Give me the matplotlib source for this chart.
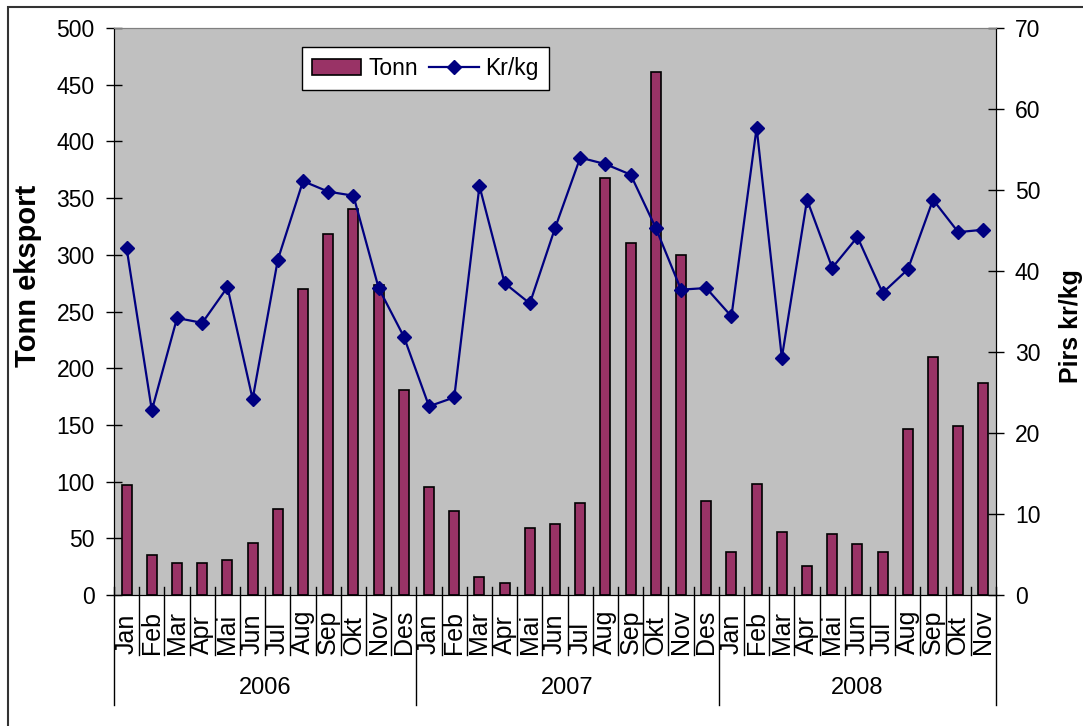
import matplotlib
matplotlib.use('Agg')
import matplotlib.pyplot as plt
import matplotlib.transforms as mtransforms
from matplotlib.patches import Rectangle

plt.rcParams['font.family'] = ['Liberation Sans', 'DejaVu Sans']

# data
months = ['Jan', 'Feb', 'Mar', 'Apr', 'Mai', 'Jun', 'Jul', 'Aug', 'Sep', 'Okt', 'Nov', 'Des']
years = ['2006', '2007', '2008']
months_per_year = [12, 12, 11]

tonn = [97, 35, 28, 28, 31, 46, 76, 270, 318, 340, 273, 181,
        95, 74, 16, 11, 59, 63, 81, 368, 310, 461, 300, 83,
        38, 98, 56, 26, 54, 45, 38, 146, 210, 149, 187]
kr_kg = [42.8, 22.8, 34.2, 33.6, 38.0, 24.2, 41.4, 51.1, 49.8, 49.3, 37.9, 31.9,
         23.3, 24.4, 50.5, 38.5, 36.0, 45.3, 54.0, 53.2, 51.9, 45.3, 37.7, 37.9,
         34.4, 57.7, 29.3, 48.8, 40.4, 44.2, 37.3, 40.2, 48.8, 44.8, 45.1]

labels = []
for n in months_per_year:
    labels += months[:n]
x = list(range(len(tonn)))

fig = plt.figure(figsize=(10.83, 7.26), dpi=100)
ax = fig.add_axes([0.1053, 0.1804, 0.8144, 0.781])
ax.set_facecolor('#C0C0C0')

ax.bar(x, tonn, width=0.4, color='#993366', edgecolor='black', linewidth=1.2, label='Tonn', zorder=2)
ax.set_xlim(-0.5, len(x) - 0.5)
ax.set_ylim(0, 500)
ax.set_yticks(range(0, 501, 50))
ax.set_xticks([])
ax.tick_params(axis='y', direction='inout', length=12, width=1, labelsize=16.5, pad=8)
ax.set_ylabel('Tonn eksport', fontsize=21, fontweight='bold')
ax.yaxis.set_label_coords(-0.082, 0.563)

ax2 = ax.twinx()
ax2.plot(x, kr_kg, color='#000080', linewidth=1.6, marker='D', markersize=7.5, label='Kr/kg', zorder=3)
ax2.set_ylim(0, 70)
ax2.set_yticks(range(0, 71, 10))
ax2.tick_params(axis='y', direction='inout', length=11, width=1, labelsize=16.5, pad=8)
ax2.set_ylabel('Pirs kr/kg', fontsize=18, fontweight='bold')
ax2.yaxis.set_label_coords(1.071, 0.474)

for a in (ax, ax2):
    a.spines['top'].set_color('#808080')
    a.spines['left'].set_color('black')
    a.spines['right'].set_color('black')
    a.spines['bottom'].set_color('black')

# multi-level category axis
trans = mtransforms.blended_transform_factory(ax.transData, ax.transAxes)
for i, lab in enumerate(labels):
    ax.text(i, -0.104, lab, rotation=90, ha='center', va='bottom', fontsize=18, transform=trans)
ends = [-0.5]
for n in months_per_year:
    ends.append(ends[-1] + n)
for b in [i - 0.5 for i in range(len(x) + 1)]:
    if b in ends:
        ax.plot([b, b], [0.015, -0.194], color='black', linewidth=1, transform=trans, clip_on=False)
    else:
        ax.plot([b, b], [0.015, -0.106], color='black', linewidth=1, transform=trans, clip_on=False)
for k, yr in enumerate(years):
    ax.text((ends[k] + ends[k + 1]) / 2, -0.164, yr, ha='center', va='center', fontsize=17, transform=trans)

h1, l1 = ax.get_legend_handles_labels()
h2, l2 = ax2.get_legend_handles_labels()
leg = ax2.legend(h1 + h2, l1 + l2, ncol=2, loc='upper left', bbox_to_anchor=(0.213, 0.967),
                 fontsize=16.5, frameon=True, fancybox=False, borderaxespad=0,
                 handlelength=2.15, columnspacing=0.5, handletextpad=0.3, borderpad=0.45)
leg.get_frame().set_edgecolor('black')
leg.get_frame().set_linewidth(1)
leg.get_frame().set_alpha(1)

# outer chart border
fig.patches.append(Rectangle((0.0074, -0.01), 1.0, 1.0, transform=fig.transFigure,
                             fill=False, edgecolor='#333333', linewidth=1.5))

fig.savefig('out.png', dpi=100)
